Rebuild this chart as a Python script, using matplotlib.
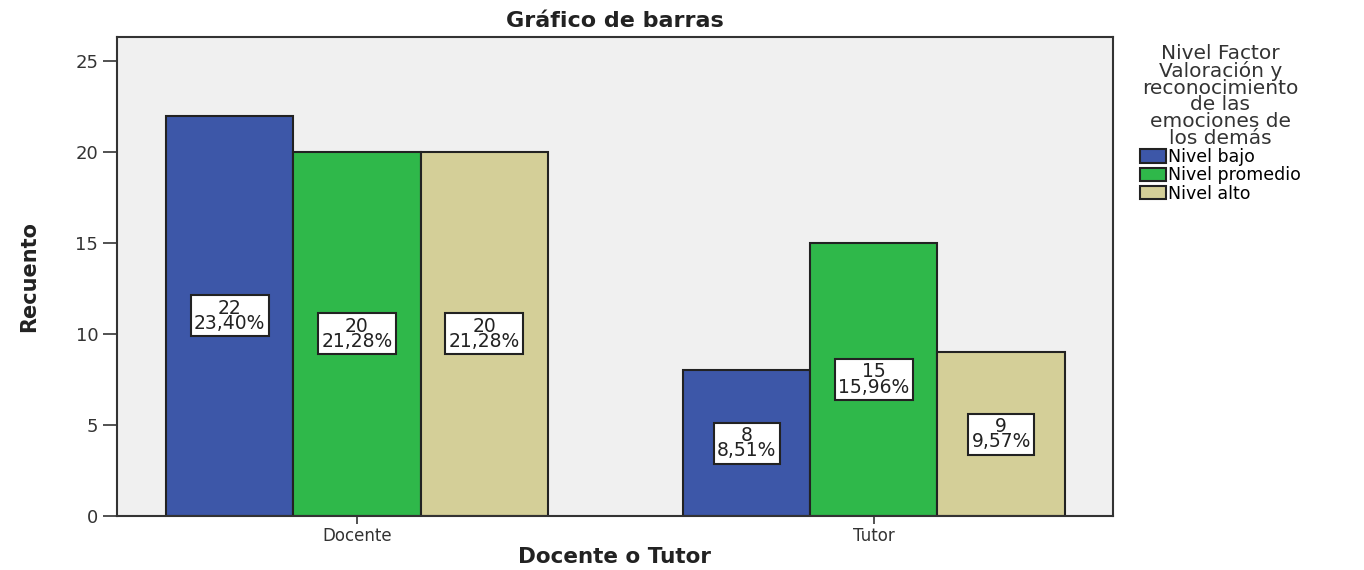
import matplotlib
matplotlib.use('Agg')
import matplotlib.pyplot as plt
import numpy as np

grupos = ['Docente', 'Tutor']
niveles = ['Nivel bajo', 'Nivel promedio', 'Nivel alto']
recuento = [[22, 8], [20, 15], [20, 9]]     # por nivel: Docente, Tutor
porcentajes = [['23,40%', '8,51%'], ['21,28%', '15,96%'], ['21,28%', '9,57%']]
colores = ['#3d57a8', '#2fb84a', '#d4cf98']

plt.rcParams['font.family'] = ['DejaVu Sans']

fig = plt.figure(figsize=(13.64, 5.70), dpi=100)
fig.patch.set_facecolor('white')
ax = fig.add_axes([0.0858, 0.0947, 0.730, 0.840])
ax.set_facecolor('#f0f0f0')

x = np.arange(len(grupos))
w = 0.246
for i, nivel in enumerate(niveles):
    pos = x + (i - 1) * w
    ax.bar(pos, recuento[i], width=w, color=colores[i], edgecolor='#222222',
           linewidth=1.5, label=nivel, zorder=2)
    for xp, v, p in zip(pos, recuento[i], porcentajes[i]):
        ax.text(xp, v / 2, f'{v}\n{p}', ha='center', va='center', fontsize=13.5,
                linespacing=0.75, zorder=3, color='#222222',
                bbox=dict(boxstyle='square,pad=0.18', fc='white', ec='#222222', lw=1.5))

ax.set_xlim(-0.464, 1.462)
ax.set_ylim(0, 26.3)
ax.set_yticks([0, 5, 10, 15, 20, 25])
ax.set_xticks(x)
ax.set_xticklabels(grupos, fontsize=12)
ax.tick_params(axis='y', labelsize=13, colors='#333333', length=10, width=1.2)
ax.tick_params(axis='x', length=6, width=1.2, colors='#333333', pad=2)
for s in ax.spines.values():
    s.set_color('#333333')
    s.set_linewidth(1.5)

ax.set_title('Gráfico de barras', fontsize=16, fontweight='bold', pad=7, color='#222222')
ax.set_xlabel('Docente o Tutor', fontsize=15.5, fontweight='bold', labelpad=1, color='#222222')
ax.set_ylabel('Recuento', fontsize=15, fontweight='bold', labelpad=26, color='#222222')

leg = ax.legend(title='Nivel Factor\nValoración y\nreconocimiento\nde las\nemociones de\nlos demás',
                loc='upper left', bbox_to_anchor=(1.02, 1.0), frameon=False,
                fontsize=12.5, title_fontsize=14.5, handlelength=1.5, handleheight=0.8,
                handletextpad=0.15, labelspacing=0.02, borderaxespad=0)
leg.get_title().set_multialignment('center')
leg.get_title().set_linespacing(0.85)
leg.get_title().set_color('#333333')
for h in leg.legend_handles:
    h.set_edgecolor('#222222')

fig.savefig('out.png', dpi=100)
